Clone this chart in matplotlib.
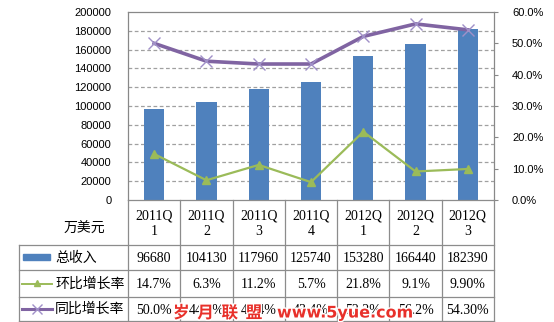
import matplotlib
matplotlib.use("Agg")
import matplotlib.pyplot as plt
import matplotlib.patheffects as pe
from matplotlib.ticker import FuncFormatter, MultipleLocator
import numpy as np

plt.rcParams['font.family'] = ['Noto Sans CJK SC', 'DejaVu Sans']

quarters = ['2011Q\n1', '2011Q\n2', '2011Q\n3', '2011Q\n4', '2012Q\n1', '2012Q\n2', '2012Q\n3']
revenue = [96680, 104130, 117960, 125740, 153280, 166440, 182390]
qoq = [0.147, 0.063, 0.112, 0.057, 0.218, 0.091, 0.099]
yoy = [0.500, 0.443, 0.434, 0.434, 0.522, 0.562, 0.543]
qoq_text = ['14.7%', '6.3%', '11.2%', '5.7%', '21.8%', '9.1%', '9.90%']
yoy_text = ['50.0%', '44.3%', '43.4%', '43.4%', '52.2%', '56.2%', '54.30%']
rev_text = [str(v) for v in revenue]
row_names = ['总收入', '环比增长率', '同比增长率']
unit = '万美元'

W, H = 554, 322
BLUE = '#4F81BD'
GREEN = '#9BBB59'
PURPLE = '#8064A2'
GRID = '#A0A0A0'

fig = plt.figure(figsize=(W / 100, H / 100), dpi=100)
fig.patch.set_facecolor('white')

# plot area in pixels
L, R, T, B = 128, 494, 12, 200
ax = fig.add_axes([L / W, 1 - B / H, (R - L) / W, (B - T) / H])
x = np.arange(len(revenue))
ax.bar(x, revenue, width=0.39, color=BLUE, zorder=3)
ax.set_xlim(-0.5, len(revenue) - 0.5)
ax.set_ylim(0, 200000)
ax.yaxis.set_major_locator(MultipleLocator(20000))
ax.set_xticks([])
for yv in range(20000, 200000, 20000):
    ax.axhline(yv, color=GRID, lw=0.9, ls=(0, (3, 2)), zorder=1)
ax.tick_params(axis='y', length=0, pad=12, labelsize=8)
for lab in ax.get_yticklabels():
    lab.set_family('Liberation Sans')
for s in ax.spines.values():
    s.set_color('#888888')
    s.set_linewidth(0.9)
ax.spines['bottom'].set_visible(False)

ax2 = ax.twinx()
ax2.set_ylim(0, 0.6)
ax2.yaxis.set_major_locator(MultipleLocator(0.1))
ax2.yaxis.set_major_formatter(FuncFormatter(lambda v, p: f'{v * 100:.1f}%'))
ax2.tick_params(axis='y', length=3, width=0.8, color='#888888', pad=10, labelsize=8)
for lab in ax2.get_yticklabels():
    lab.set_family('Liberation Sans')
for s in ax2.spines.values():
    s.set_visible(False)
ax2.plot(x, qoq, color=GREEN, lw=1.6, marker='^', ms=6, mfc=GREEN, mec=GREEN, zorder=4)
ax2.plot(x, yoy, color=PURPLE, lw=2.6, marker='x', ms=8, mew=1.0, mec='#A090C8', zorder=4)

# data table below the plot
tb = fig.add_axes([0, 0, 1, 1], zorder=5)
tb.set_xlim(0, W)
tb.set_ylim(H, 0)
tb.axis('off')
tb.patch.set_alpha(0)
LC = '#8C8C8C'
col_w = (R - L) / len(revenue)
rows_y = [200, 245, 270, 297, 321]
x0 = 19
tb.plot([L, R], [rows_y[0]] * 2, color=LC, lw=0.9)
for yv in rows_y[1:]:
    tb.plot([x0, R], [yv] * 2, color=LC, lw=0.9)
tb.plot([x0, x0], [rows_y[1], rows_y[-1]], color=LC, lw=0.9)
for i in range(len(revenue) + 1):
    xv = L + i * col_w
    tb.plot([xv, xv], [rows_y[0], rows_y[-1]], color=LC, lw=0.9)

serif = 'Liberation Serif'
for i, q in enumerate(quarters):
    cx = L + (i + 0.5) * col_w
    tb.text(cx, (rows_y[0] + rows_y[1]) / 2 + 1, q, ha='center', va='center',
            family=serif, fontsize=10, linespacing=1.25)
    for r, vals in enumerate([rev_text, qoq_text, yoy_text]):
        tb.text(cx, (rows_y[r + 1] + rows_y[r + 2]) / 2 + 1, vals[i], ha='center',
                va='center', family=serif, fontsize=10)

tb.text(84, 229, unit, ha='center', va='center', fontsize=10)
for r, name in enumerate(row_names):
    cy = (rows_y[r + 1] + rows_y[r + 2]) / 2
    tb.text(55, cy, name, ha='left', va='center', fontsize=10)
# legend keys
tb.add_patch(plt.Rectangle((23, 254), 27, 6, color=BLUE))
tb.plot([22, 52], [284, 284], color=GREEN, lw=1.4)
tb.plot([37], [283], marker='^', color=GREEN, ms=5)
tb.plot([22, 52], [309, 309], color=PURPLE, lw=2.2)
tb.plot([37], [309], marker='x', color='#A090C8', ms=7, mew=1.0)

# watermark
tb.text(173, 313, '岁  月  联  盟', ha='left', va='center', fontsize=12, fontweight='bold',
        color='#E8302A', family=['Noto Sans CJK SC', 'DejaVu Sans'],
        path_effects=[pe.withStroke(linewidth=2, foreground='white')])
tb.text(277, 313, 'www.5yue.com', ha='left', va='center', fontsize=11.5, fontweight='bold',
        color='#E8302A', family='DejaVu Sans',
        path_effects=[pe.withStroke(linewidth=2, foreground='white')])

fig.savefig('out.png', dpi=100)
